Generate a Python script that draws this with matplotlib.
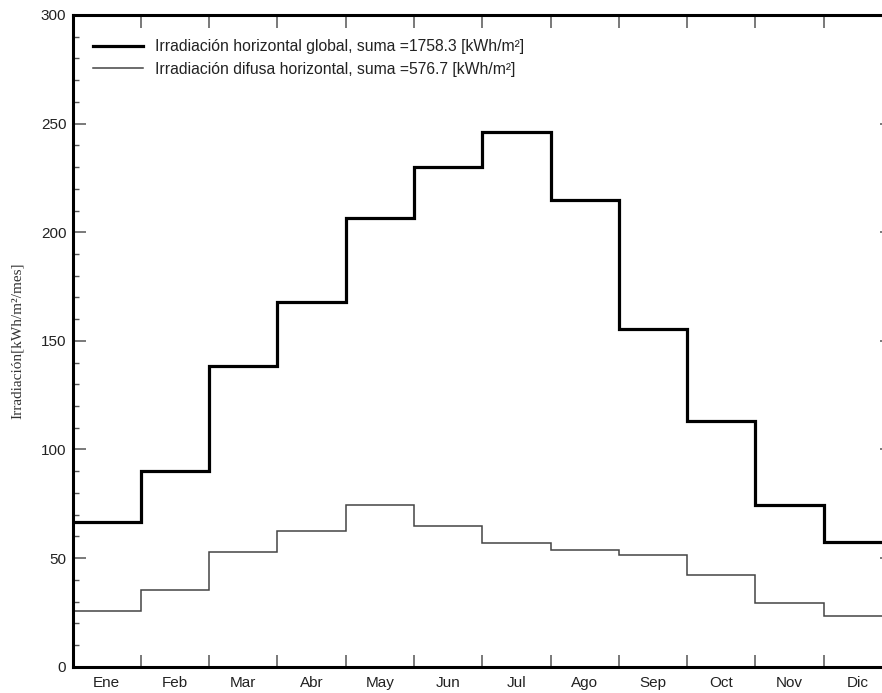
import numpy as np
import matplotlib
matplotlib.use("Agg")
import matplotlib.pyplot as plt
from matplotlib.ticker import MultipleLocator, FixedLocator, NullFormatter

months = ["Ene", "Feb", "Mar", "Abr", "May", "Jun", "Jul", "Ago", "Sep", "Oct", "Nov", "Dic"]
global_h = [66.6, 90.0, 138.4, 168.0, 206.7, 230.0, 246.3, 214.8, 155.5, 113.1, 74.6, 57.5]
diffuse_h = [25.8, 35.1, 52.8, 62.6, 74.6, 64.6, 57.1, 53.8, 51.5, 42.3, 29.5, 23.5]
label_global = "Irradiación horizontal global, suma =1758.3 [kWh/m²]"
label_diffuse = "Irradiación difusa horizontal, suma =576.7 [kWh/m²]"
ylabel = "Irradiación[kWh/m²/mes]"

plt.rcParams['font.family'] = ['Liberation Sans', 'DejaVu Sans']

W, H = 882, 693
fig = plt.figure(figsize=(W / 100, H / 100), dpi=100)
left, right, top, bottom = 72.5, 892, 15, 666.7
ax = fig.add_axes([left / W, 1 - bottom / H, (right - left) / W, (bottom - top) / H])

edges = np.arange(len(months) + 1)
ax.stairs(global_h, edges, baseline=None, color="black", linewidth=2.3, label=label_global)
ax.stairs(diffuse_h, edges, baseline=None, color="#444444", linewidth=1.1, label=label_diffuse)

ax.set_xlim(0, 12)
ax.set_ylim(0, 300)

ax.xaxis.set_major_locator(FixedLocator(edges[1:-1]))
ax.xaxis.set_major_formatter(NullFormatter())
ax.xaxis.set_minor_locator(FixedLocator(edges[:-1] + 0.5))
ax.set_xticklabels(months, minor=True)
ax.yaxis.set_major_locator(MultipleLocator(50))
ax.yaxis.set_minor_locator(MultipleLocator(10))

ax.tick_params(axis='both', which='major', direction='in', length=9, width=1.1,
               color='#555555', labelsize=11, labelcolor='#222222')
ax.tick_params(axis='x', which='major', top=True, bottom=True)
ax.tick_params(axis='y', which='major', left=True, right=True, pad=4.5)
ax.tick_params(axis='y', which='minor', direction='in', length=4.5, width=1.0,
               color='#555555', left=True, right=True)
ax.tick_params(axis='x', which='minor', length=0, labelsize=11, labelcolor='#222222', pad=7)

for s in ax.spines.values():
    s.set_linewidth(2.2)
    s.set_color('black')

leg = ax.legend(loc='upper left', bbox_to_anchor=((93 - left) / (right - left), 1 - (39 - top) / (bottom - top)),
                frameon=False, fontsize=11.3, handlelength=3.2, handletextpad=0.75,
                borderpad=0, borderaxespad=0, labelspacing=0.5)
for t in leg.get_texts():
    t.set_color('#222222')

fig.text(17.5 / W, 1 - 341 / H, ylabel, rotation=90, ha='center', va='center',
         fontsize=11, family=['Liberation Serif', 'DejaVu Serif'], color='#333333')

fig.savefig("out.png", dpi=100)
